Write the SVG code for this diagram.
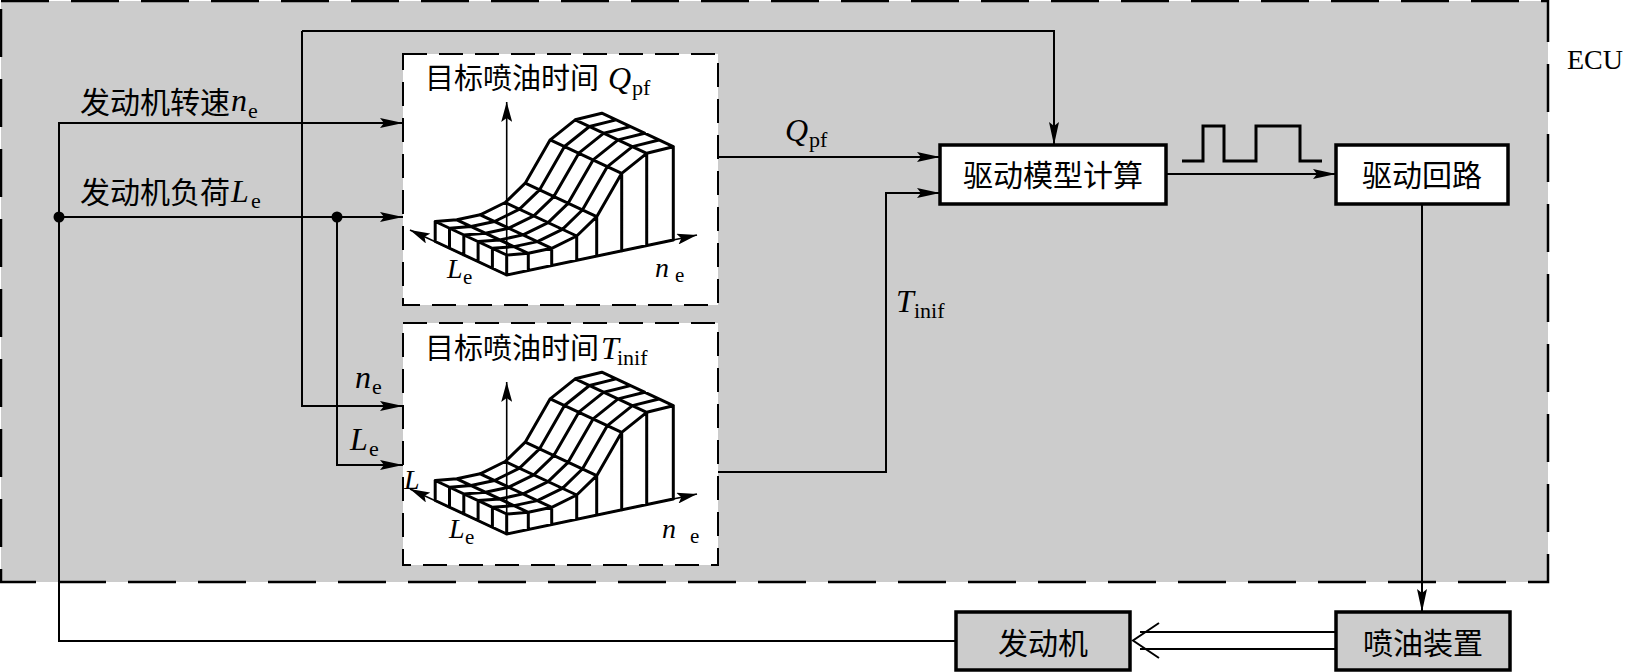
<svg xmlns="http://www.w3.org/2000/svg" xmlns:xlink="http://www.w3.org/1999/xlink" width="1630" height="672" viewBox="0 0 1630 672">
<style>
.cn{font-family:"Liberation Serif","Noto Sans CJK SC",serif;font-size:30px;fill:#000}
.cnt{font-family:"Liberation Serif","Noto Sans CJK SC",serif;font-size:29px;fill:#000}
.it{font-family:"Liberation Serif",serif;font-style:italic;font-size:32px;fill:#000}
.its{font-family:"Liberation Serif",serif;font-style:italic;font-size:28px;fill:#000}
.sub{font-family:"Liberation Serif",serif;font-size:22px;fill:#000}
.subs{font-family:"Liberation Serif",serif;font-size:21px;fill:#000}
.rm{font-family:"Liberation Serif",serif;font-size:28px;fill:#000}
.ln{fill:none;stroke:#000;stroke-width:2}
.box{stroke:#000;stroke-width:3.5}
.dbox{fill:#fff;stroke:#000;stroke-width:2;stroke-dasharray:24 12}
.mesh{fill:none;stroke:#000;stroke-width:3;stroke-linejoin:round;stroke-linecap:round}
.ax{fill:none;stroke:#000;stroke-width:1.6}
</style>
<defs>
<marker id="ah" markerWidth="23" markerHeight="10" refX="23" refY="5" orient="auto" markerUnits="userSpaceOnUse"><path d="M0,0 L23,5 L0,10 L4,5 z" fill="#000"/></marker>
<marker id="ah2" markerWidth="20" markerHeight="11" refX="20" refY="5.5" orient="auto" markerUnits="userSpaceOnUse"><path d="M0,0 L20,5.5 L0,11 L4,5.5 z" fill="#000"/></marker>
<g id="surf">
<path class="ax" d="M506.7,275 L410,230" marker-end="url(#ah2)"/>
<path class="ax" d="M506.7,275 L697,235" marker-end="url(#ah2)"/>
<path class="mesh" d="M506.7,255 L528.3,253.3 L551.7,248.3 L576.7,236 L596.7,216.7 L621.7,173.3 L646.7,153.3 L673.3,146.7
M492.4,248.3 L514,246.6 L537.4,241.6 L562.4,229.3 L582.4,210 L607.4,166.6 L632.4,146.6 L659,140
M478.1,241.6 L499.7,239.9 L523.1,234.9 L548.1,222.6 L568.1,203.3 L593.1,159.9 L618.1,139.9 L644.7,133.3
M463.8,234.9 L485.4,233.2 L508.8,228.2 L533.8,215.9 L553.8,196.6 L578.8,153.2 L603.8,133.2 L630.4,126.6
M449.5,228.2 L471.1,226.5 L494.5,221.5 L519.5,209.2 L539.5,189.9 L564.5,146.5 L589.5,126.5 L616.1,119.9
M435.2,221.5 L456.8,219.8 L480.2,214.8 L505.2,202.5 L525.2,183.2 L550.2,139.8 L575.2,119.8 L601.8,113.2
M506.7,255 L435.2,221.5 M528.3,253.3 L456.8,219.8 M551.7,248.3 L480.2,214.8 M576.7,236 L505.2,202.5
M596.7,216.7 L525.2,183.2 M621.7,173.3 L550.2,139.8 M646.7,153.3 L575.2,119.8 M673.3,146.7 L601.8,113.2
M435.2,221.5 L435.2,241.5 L506.7,275 L673.3,240 L673.3,146.7
M506.7,255 L506.7,275 M528.3,253.3 L528.3,270.5 M551.7,248.3 L551.7,265.6 M576.7,236 L576.7,260.3
M596.7,216.7 L596.7,256.1 M621.7,173.3 L621.7,250.9 M646.7,153.3 L646.7,245.6
M492.4,248.3 L492.4,268.3 M478.1,241.6 L478.1,261.6 M463.8,234.9 L463.8,254.9 M449.5,228.2 L449.5,248.2"/>
</g>
</defs>
<rect x="0" y="0" width="1630" height="672" fill="#fff"/>
<g id="ecu">
<rect x="1" y="1" width="1547" height="581" fill="#cccccc" stroke="#000" stroke-width="2.5" stroke-dasharray="48 22"/>
<text class="rm" x="1567" y="69">ECU</text>
</g>
<g id="map-qpf">
<rect class="dbox" x="403" y="54" width="315" height="251"/>
<use xlink:href="#surf"/>
<path class="ax" d="M506.7,275 V102" marker-end="url(#ah2)"/>
<text class="cnt" x="425" y="89">目标喷油时间</text>
<text class="it" x="608" y="89">Q</text><text class="sub" x="632" y="95">pf</text>
<text class="its" x="447" y="278">L</text><text class="subs" x="463" y="284">e</text>
<text class="its" x="655" y="277">n</text><text class="subs" x="675" y="282">e</text>
</g>
<g id="map-tinif">
<rect class="dbox" x="403" y="323" width="315" height="242"/>
<use xlink:href="#surf" transform="translate(0,259)"/>
<path class="ax" d="M506.7,533 V382" marker-end="url(#ah2)"/>
<text class="cnt" x="425" y="359">目标喷油时间</text>
<text class="it" x="601" y="359">T</text><text class="sub" x="617" y="365">inif</text>
<text class="its" x="404" y="489">L</text>
<text class="its" x="449" y="538">L</text><text class="subs" x="465" y="544">e</text>
<text class="its" x="662" y="538">n</text><text class="subs" x="690" y="543">e</text>
</g>
<g id="drive-model">
<rect class="box" x="940" y="145" width="226" height="59" fill="#fff"/>
<text class="cn" x="1053" y="186" text-anchor="middle">驱动模型计算</text>
</g>
<g id="drive-circuit">
<rect class="box" x="1336" y="145" width="172" height="59" fill="#fff"/>
<text class="cn" x="1422" y="186" text-anchor="middle">驱动回路</text>
</g>
<g id="injector">
<rect class="box" x="1336" y="612" width="174" height="58" fill="#cccccc"/>
<text class="cn" x="1423" y="654" text-anchor="middle">喷油装置</text>
</g>
<g id="engine">
<rect class="box" x="956" y="612" width="174" height="58" fill="#cccccc"/>
<text class="cn" x="1043" y="654" text-anchor="middle">发动机</text>
</g>
<g id="connectors">
<path class="ln" d="M956,641 H59 V123 H403" marker-end="url(#ah)"/>
<path class="ln" d="M59,217 H403" marker-end="url(#ah)"/>
<path class="ln" d="M302,31 H1054 V145" marker-end="url(#ah)"/>
<path class="ln" d="M302,31 V406 H403" marker-end="url(#ah)"/>
<path class="ln" d="M337,217 V465 H403" marker-end="url(#ah)"/>
<path class="ln" d="M718,157 H940" marker-end="url(#ah)"/>
<path class="ln" d="M718,472 H886 V193 H940" marker-end="url(#ah)"/>
<path class="ln" d="M1166,174 H1336" marker-end="url(#ah)"/>
<path class="ln" d="M1422,204 V612" marker-end="url(#ah)"/>
<path class="ln" d="M1336,632 H1140 M1336,649 H1140 M1159,623 L1133,640.5 L1159,658"/>
<path d="M1182,161 H1203 V126 H1224 V161 H1256 V126 H1300 V161 H1322" fill="none" stroke="#000" stroke-width="3"/>
<circle cx="59" cy="217" r="5.5" fill="#000"/>
<circle cx="337" cy="217" r="5.5" fill="#000"/>
</g>
<g id="labels">
<text class="cn" x="80" y="113">发动机转速</text><text class="it" x="231" y="111">n</text><text class="sub" x="248" y="118">e</text>
<text class="cn" x="80" y="203">发动机负荷</text><text class="it" x="231" y="202">L</text><text class="sub" x="251" y="208">e</text>
<text class="it" x="785" y="141">Q</text><text class="sub" x="809" y="147">pf</text>
<text class="it" x="896" y="312">T</text><text class="sub" x="914" y="318">inif</text>
<text class="it" x="355" y="388">n</text><text class="sub" x="372" y="394">e</text>
<text class="it" x="350" y="450">L</text><text class="sub" x="369" y="456">e</text>
</g>
</svg>
